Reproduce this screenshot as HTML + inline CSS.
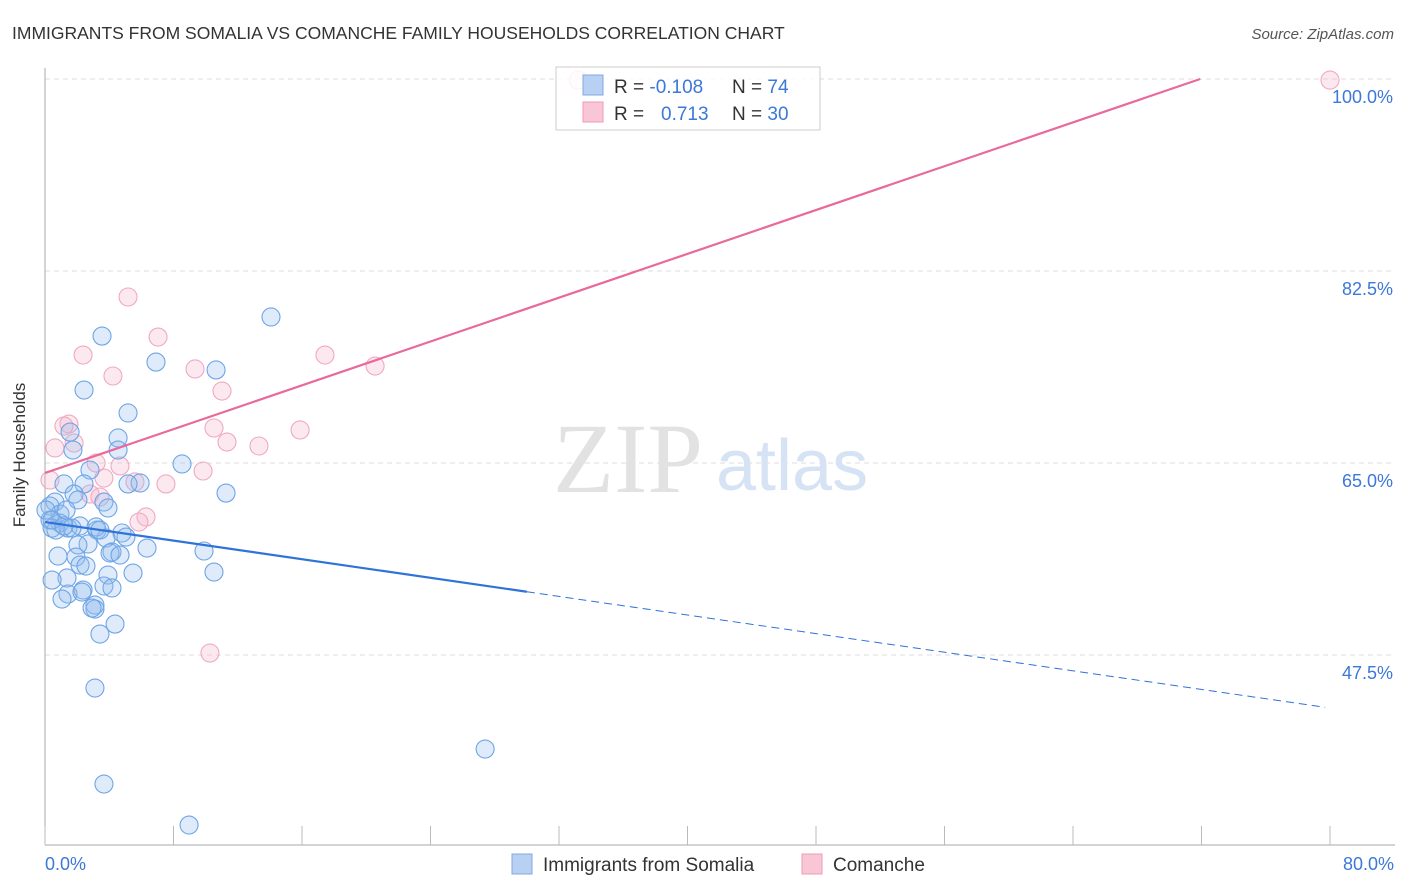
<!DOCTYPE html>
<html><head><meta charset="utf-8"><style>
body{margin:0;background:#fff;font-family:"Liberation Sans",sans-serif;}
svg{display:block}
</style></head><body>
<svg id="c" width="1406" height="892">
<text x="12" y="39" font-size="17.5" fill="#333">IMMIGRANTS FROM SOMALIA VS COMANCHE FAMILY HOUSEHOLDS CORRELATION CHART</text>
<text x="1394" y="39" font-size="15" fill="#555" font-style="italic" text-anchor="end">Source: ZipAtlas.com</text>
<g id="grid"></g>
<g><text x="553" y="492" font-family="Liberation Serif,serif" font-size="100" fill="#e2e2e2">ZIP</text><text x="716" y="490" font-size="72" fill="#d6e3f5">atlas</text></g>
<line x1="45" y1="68" x2="45" y2="845" stroke="#aaa"/>
<line x1="45" y1="845" x2="1395" y2="845" stroke="#aaa"/>
<g id="ticks"></g>
<text x="25" y="455" font-size="17" fill="#333" text-anchor="middle" transform="rotate(-90 25 455)">Family Households</text>
<text x="45" y="870" font-size="18" fill="#3b78d8">0.0%</text>
<text x="1394" y="870" font-size="18" fill="#3b78d8" text-anchor="end">80.0%</text>
<g id="pts"></g>
<g id="lines"></g>
<g>
<rect x="556" y="67" width="264" height="63" fill="rgba(255,255,255,0.85)" stroke="#ccc"/>
<rect x="583" y="75" width="20" height="20" fill="#b8d1f3" stroke="#7fa9e6"/>
<rect x="583" y="102" width="20" height="20" fill="#f9c6d6" stroke="#f09ab6"/>
<text x="614" y="93" font-size="19" fill="#333">R = <tspan fill="#3b78d8">-0.108</tspan></text>
<text x="732" y="93" font-size="19" fill="#333">N = <tspan fill="#3b78d8">74</tspan></text>
<text x="614" y="120" font-size="19" fill="#333">R = <tspan fill="#3b78d8" x="661">0.713</tspan></text>
<text x="732" y="120" font-size="19" fill="#333">N = <tspan fill="#3b78d8">30</tspan></text>
</g>
<g>
<rect x="512" y="854" width="20" height="20" fill="#b8d1f3" stroke="#7fa9e6"/>
<text x="543" y="871" font-size="19" fill="#333">Immigrants from Somalia</text>
<rect x="802" y="854" width="20" height="20" fill="#f9c6d6" stroke="#f09ab6"/>
<text x="833" y="871" font-size="19" fill="#333">Comanche</text>
</g>
</svg>
<script>
const yTicks=[100,82.5,65,47.5];
const yTickLabels=["100.0%","82.5%","65.0%","47.5%"];
const blueX=[3.55,6.91,2.43,10.65,14.07,5.17,1.56,4.55,1.74,4.55,8.53,2.80,5.92,5.17,2.43,1.18,11.27,1.81,2.05,3.67,3.92,0.62,0.31,0.93,0.31,0.93,1.43,2.18,3.24,1.68,4.79,3.80,2.68,2.05,6.35,9.90,0.81,4.17,4.05,1.93,2.18,1.37,0.44,3.92,5.48,10.52,3.67,4.17,2.37,1.43,1.06,3.11,3.11,2.93,4.36,3.42,3.11,27.40,3.67,8.97,0.44,0.68,0.06,0.44,1.18,3.18,3.42,5.04,1.31,2.55,2.30,4.67];
const blueY=[76.57,74.2,71.65,73.48,78.31,69.56,67.82,67.28,66.18,66.18,64.91,64.36,63.18,63.09,63.09,63.09,62.26,62.17,61.63,61.44,60.90,61.44,61.08,60.35,59.80,59.53,59.07,59.26,58.89,59.07,58.62,58.16,57.62,57.53,57.25,56.98,56.52,56.89,56.80,56.43,55.70,54.52,54.33,54.79,54.97,55.06,53.79,53.61,53.42,53.06,52.60,52.05,51.69,51.78,50.32,49.41,44.49,38.93,35.74,32.00,59.07,58.89,60.71,59.80,59.26,59.17,58.89,58.25,60.71,55.61,53.24,56.61];
const pinkX=[5.17,7.04,2.37,17.43,9.34,20.55,4.23,11.02,1.49,1.18,10.52,15.88,1.81,11.33,13.32,0.62,3.18,4.67,9.84,3.67,7.53,5.60,2.80,3.42,6.29,5.85,10.27,80.0,33.2,0.31];
const pinkY=[80.13,76.48,74.84,74.84,73.57,73.84,72.93,71.56,68.55,68.37,68.19,68.01,66.82,66.91,66.55,66.37,65.0,64.73,64.27,63.63,63.09,63.27,62.17,61.90,60.08,59.62,47.68,99.9,99.9,63.45];
const pinkTrend=[64.09,0.4993];
const blueTrend=[59.62,-0.2119];
const blueSolidEnd=30;
const X=v=>45+v*1285/80, Y=v=>79+(100-v)*192/17.5;
const NS="http://www.w3.org/2000/svg";
function mk(t,a,p){const e=document.createElementNS(NS,t);for(const k in a)e.setAttribute(k,a[k]);p.appendChild(e);return e;}
const grid=document.getElementById('grid');
yTicks.forEach((t,i)=>{
 const l=mk('line',{x1:45,x2:1395,y1:Y(t),y2:Y(t),stroke:'#ddd','stroke-dasharray':'5,4'},grid);
 
 
 const tx=mk('text',{x:1393,y:Y(t)+24,'font-size':18,fill:'#3b78d8','text-anchor':'end'},grid);
 tx.textContent=yTickLabels[i];
 
 
});
const tk=document.getElementById('ticks');
for(let i=0;i<=10;i++){const l=mk('line',{x1:X(i*8),x2:X(i*8),y1:826,y2:845,stroke:'#bbb'},tk);
 
 }
const pts=document.getElementById('pts');
pinkX.forEach((x,i)=>{const c=mk('circle',{cx:X(x),cy:Y(pinkY[i]),r:9,fill:'rgba(246,180,203,0.3)',stroke:'#f0a9c1','stroke-width':1.1},pts);
 
 });
blueX.forEach((x,i)=>{const c=mk('circle',{cx:X(x),cy:Y(blueY[i]),r:9,fill:'rgba(150,190,240,0.3)',stroke:'#6ea5e6','stroke-width':1.1},pts);
 
 });
const ln=document.getElementById('lines');
const pxEnd=(100-pinkTrend[0])/pinkTrend[1];
const p=mk('line',{x1:X(0),y1:Y(pinkTrend[0]),x2:X(pxEnd),y2:Y(100),stroke:'#e8699a','stroke-width':2.2},ln);


const b=mk('line',{x1:X(0),y1:Y(blueTrend[0]),x2:X(blueSolidEnd),y2:Y(blueTrend[0]+blueTrend[1]*blueSolidEnd),stroke:'#2f72d8','stroke-width':2.2},ln);


const bd=mk('line',{x1:X(blueSolidEnd),y1:Y(blueTrend[0]+blueTrend[1]*blueSolidEnd),x2:X(79.7),y2:Y(blueTrend[0]+blueTrend[1]*79.7),stroke:'#2f72d8','stroke-width':1,'stroke-dasharray':'8,5'},ln);


</script>
</body></html>
